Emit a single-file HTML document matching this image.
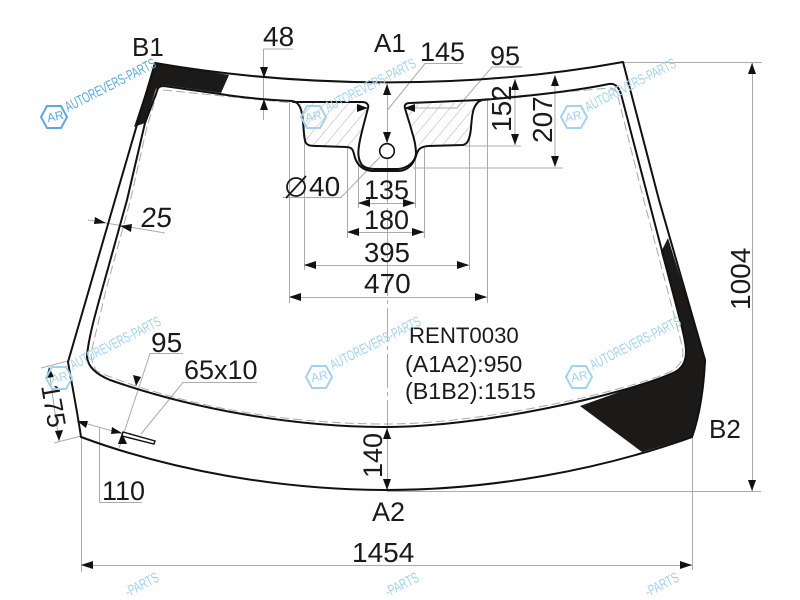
<!DOCTYPE html>
<html><head><meta charset="utf-8"><style>
html,body{margin:0;padding:0;background:#fff;width:800px;height:600px;overflow:hidden}
svg{display:block;filter:blur(.3px)}
text{font-family:"Liberation Sans",sans-serif;fill:#1a1a1a}
.d{font-size:28px}
.w{font-size:14.500px;fill:#5aa9de}
.wl{font-size:14.500px;fill:#a3d2ee}
.hx{fill:none;stroke:#5aa9de;stroke-width:2}
.hl{fill:none;stroke:#a3d2ee;stroke-width:2}
.g{stroke:#ababab;stroke-width:1;fill:none}
.k{stroke:#111;stroke-width:2;fill:none;stroke-linejoin:round;stroke-linecap:round}
.a{fill:#111;stroke:none}
</style></head><body>
<svg width="800" height="600" viewBox="0 0 800 600" xmlns="http://www.w3.org/2000/svg">
<defs>
<pattern id="h" patternUnits="userSpaceOnUse" width="9" height="9" patternTransform="rotate(40)">
<path d="M0 0V9" stroke="#b0b0b0" stroke-width="1"/>
</pattern>
</defs>
<rect width="800" height="600" fill="#fff"/>

<!-- hatch -->
<path d="M296 103H362L368 106L358 146H312L305 142L302 112Z" fill="url(#h)"/>
<path d="M405 106L410 103H479L473 112L470 138L465 145H420L414 146Z" fill="url(#h)"/>

<!-- grey dimension lines -->
<g class="g">
<path d="M263.500 49V120M263.500 49H293"/>
<path d="M387.500 84V170"/>
<path d="M387.500 170V430" stroke-dasharray="34 4 4 4"/>
<path d="M387.500 428V490"/>
<path d="M463 63.500H425L387.500 110"/>
<path d="M357 108H368M404 108H457L492 67H522"/>
<path d="M465 146H521M515 79V145"/>
<path d="M413 168H563M555 76V167"/>
<path d="M623 62.500H762M752.500 63V491M387 491.500H761"/>
<path d="M692.500 437V570M81.500 437V572M81 565.500H692"/>
<path d="M358.500 150V208M415.500 150V208M358 203.500H415"/>
<path d="M347.500 148V238M424.500 148V238M347 232.500H424"/>
<path d="M304.500 138V270M469.500 138V270M304 265.500H469"/>
<path d="M289.500 102V303M487.500 100V303M289 297.500H487"/>
<path d="M380 157L341 197.500H283"/>
<path d="M88 220L165 233"/>
<path d="M183 353.500H150L119 448"/>
<path d="M257 382.500H183L141 434"/>
<path d="M77 421L123 434M99.500 428V502.500H142"/>
<path d="M41 368L68 361M54 443L81 436M49 370L59 441"/>
</g>

<!-- black masked regions -->
<path d="M155 63L229 75L221 93L164 85Q157 85 155 92L145 123L134 127Z" fill="#1c1a19"/>
<path d="M668 238L661 252L680 320C684 335 686 345 686 352C686 362 682 369 673 373L580 406L642 452L692 437Q703 405 706 360Z" fill="#1c1a19"/>

<!-- serigraphy dashed line -->
<path d="M163 90L292 103M480 99L610 88Q616 88 618 97L643 197L678 330C682 345 683 350 683 353C683 360 680 366 670 372C620 393 480 424 387 424C290 424 200 408 127 383L108 376C100 373 95 371 95 368C92 363 91 358 91 353L106 290L130 202L147 127L157 93" fill="none" stroke="#a9a9a9" stroke-width="1" stroke-dasharray="9 4"/>

<!-- outer contour -->
<path class="k" d="M155 63C300 88 470 90 623 62L659 200L705 360C704 385 700 415 692 437C600 470 490 490 387 490C280 490 170 470 81 437C77 410 72 385 68 362L115 200L155 63Z"/>
<!-- inner contour -->
<path class="k" d="M220 94C245 98 270 100 292 101C300 102 302 110 303 122C304 132 304 140 306 143C308 146 312 146 318 146L346 147C352 147 353 150 354 154C356 164 362 170 372 171H398C407 171 413 165 416 156C418 149 420 147 428 146L463 145C468 144 470 138 471 128C472 114 473 103 482 100C530 96 575 91 609 84C616 83 619 88 621 94L680 320C684 335 686 345 686 352C686 362 682 369 673 373C620 396 480 427 387 427C290 427 190 408 110 380C98 375 88 368 87 357C88 340 95 315 102 290L127 200L145 123L157 91C158 87 160 86 164 86L220 94"/>
<path class="k" stroke-width="1.600" d="M293 102H362C367 102 369 105 368 108C365 120 362 130 360 140C358 150 357 158 362 165C365 168 370 169 375 169H398C408 168 415 162 416 154C416 146 414 138 412 132C410 124 407 116 405 108C404 105 406 103 410 103L480 100"/>

<circle cx="387" cy="151" r="7.300" fill="#fff" stroke="#111" stroke-width="1.600"/>

<!-- glass cut-out -->
<path d="M123 432L155 441L154 444L122 436Z" fill="#fff" stroke="#111" stroke-width="1.400"/>

<!-- arrowheads -->
<g class="a">
<path d="M264 78L260 67H268Z"/><path d="M264 99L260 110H268Z"/>
<path d="M387 84L383 95H391Z"/><path d="M387 143L383 132H391Z"/>
<path d="M368 108L357 104V112Z"/><path d="M404 108L415 104V112Z"/>
<path d="M515 79L511 90H519Z"/><path d="M515 145L511 134H519Z"/>
<path d="M555 75L551 86H559Z"/><path d="M555 167L551 156H559Z"/>
<path d="M752 63L748 74H756Z"/><path d="M752 491L748 480H756Z"/>
<path d="M81 565L93 561V569Z"/><path d="M692 565L680 561V569Z"/>
<path d="M358 203L370 199V207Z"/><path d="M415 203L403 199V207Z"/>
<path d="M347 232L359 228V236Z"/><path d="M424 232L412 228V236Z"/>
<path d="M304 265L316 261V269Z"/><path d="M469 265L457 261V269Z"/>
<path d="M289 297L301 293V301Z"/><path d="M487 297L475 293V301Z"/>
<path d="M106 223L95 217L94 224Z"/><path d="M120 226L132 224L131 232Z"/>
<path d="M136 386L133 375L141 377Z"/><path d="M122 433L118 444L127 444Z"/>
<path d="M77 421L88 421L86 428Z"/><path d="M122 433L112 427L111 434Z"/>
<path d="M49 367L46 378L54 377Z"/><path d="M59 441L55 431L63 430Z"/>
<path d="M387 428L383 439H391Z"/><path d="M387 490L383 479H391Z"/>
</g>

<!-- labels -->
<g>
<text class="d" x="132" y="56" style="font-size:26px">B1</text>
<text class="d" x="263" y="46">48</text>
<text class="d" x="374" y="52" style="font-size:26px">A1</text>
<text class="d" x="420" y="61" style="font-size:27px">145</text>
<text class="d" x="490" y="65" style="font-size:27px">95</text>
<text class="d" transform="translate(511 132) rotate(-90)">152</text>
<text class="d" transform="translate(552 143) rotate(-90)">207</text>
<text class="d" x="309" y="196">40</text>
<circle cx="296" cy="187" r="9" fill="none" stroke="#1a1a1a" stroke-width="1.800"/>
<path d="M286 198L306 176" stroke="#1a1a1a" stroke-width="1.800"/>
<text class="d" x="364" y="199" style="font-size:27px">135</text>
<text class="d" x="364" y="229" style="font-size:27px">180</text>
<text class="d" x="364" y="262" style="font-size:27.500px">395</text>
<text class="d" x="364" y="293">470</text>
<text class="d" transform="translate(140 227) skewX(-6)">25</text>
<text class="d" x="151" y="352">95</text>
<text class="d" x="184" y="379" style="font-size:27px">65x10</text>
<text class="d" x="102" y="500" style="font-size:27px">110</text>
<text class="d" transform="translate(41 386) rotate(80)" style="font-size:26px">175</text>
<text class="d" transform="translate(382 478) rotate(-90)" style="font-size:27px">140</text>
<text class="d" x="372" y="521" style="font-size:27px">A2</text>
<text class="d" x="352" y="562">1454</text>
<text class="d" x="709" y="438" style="font-size:26px">B2</text>
<text class="d" transform="translate(750 310) rotate(-90)">1004</text>
<text x="409" y="343" style="font-size:22.200px">RENT0030</text>
<text x="405" y="372" style="font-size:23.200px">(A1A2):950</text>
<text x="405" y="399" style="font-size:23.300px">(B1B2):1515</text>
</g>

<!-- watermarks -->
<g>
<path class="hx" d="M41 117L47 106H61L67 117L61 128H47Z"/><text class="w" transform="translate(48 122) rotate(-12)" style="font-size:12px">AR</text><text class="w" transform="translate(68 112) rotate(-27)" textLength="100" lengthAdjust="spacingAndGlyphs">AUTOREVERS-PARTS</text>
<path class="hl" d="M301 117L307 106H320L326 117L320 128H307Z"/><text class="wl" transform="translate(306 122) rotate(-12)" style="font-size:12px">AR</text><text class="wl" transform="translate(328 112) rotate(-27)" textLength="100" lengthAdjust="spacingAndGlyphs">AUTOREVERS-PARTS</text>
<path class="hl" d="M561 117L567 106H581L587 117L581 128H567Z"/><text class="wl" transform="translate(566 122) rotate(-12)" style="font-size:12px">AR</text><text class="wl" transform="translate(588 112) rotate(-27)" textLength="100" lengthAdjust="spacingAndGlyphs">AUTOREVERS-PARTS</text>
<path class="hl" d="M46 378L52 367H66L72 378L66 389H52Z"/><text class="wl" transform="translate(52 383) rotate(-12)" style="font-size:12px">AR</text><text class="wl" transform="translate(73 370) rotate(-27)" textLength="100" lengthAdjust="spacingAndGlyphs">AUTOREVERS-PARTS</text>
<path class="hl" d="M306 377L312 366H326L332 377L326 388H312Z"/><text class="wl" transform="translate(312 382) rotate(-12)" style="font-size:12px">AR</text><text class="wl" transform="translate(333 370) rotate(-27)" textLength="100" lengthAdjust="spacingAndGlyphs">AUTOREVERS-PARTS</text>
<path class="hl" d="M566 377L572 366H586L592 377L586 388H572Z"/><text class="wl" transform="translate(572 382) rotate(-12)" style="font-size:12px">AR</text><text class="wl" transform="translate(593 370) rotate(-27)" textLength="100" lengthAdjust="spacingAndGlyphs">AUTOREVERS-PARTS</text>
<text class="wl" transform="translate(128 597) rotate(-27)" textLength="36" lengthAdjust="spacingAndGlyphs">-PARTS</text>
<text class="wl" transform="translate(388 597) rotate(-27)" textLength="36" lengthAdjust="spacingAndGlyphs">-PARTS</text>
<text class="wl" transform="translate(648 597) rotate(-27)" textLength="36" lengthAdjust="spacingAndGlyphs">-PARTS</text>
</g>
</svg>
</body></html>
